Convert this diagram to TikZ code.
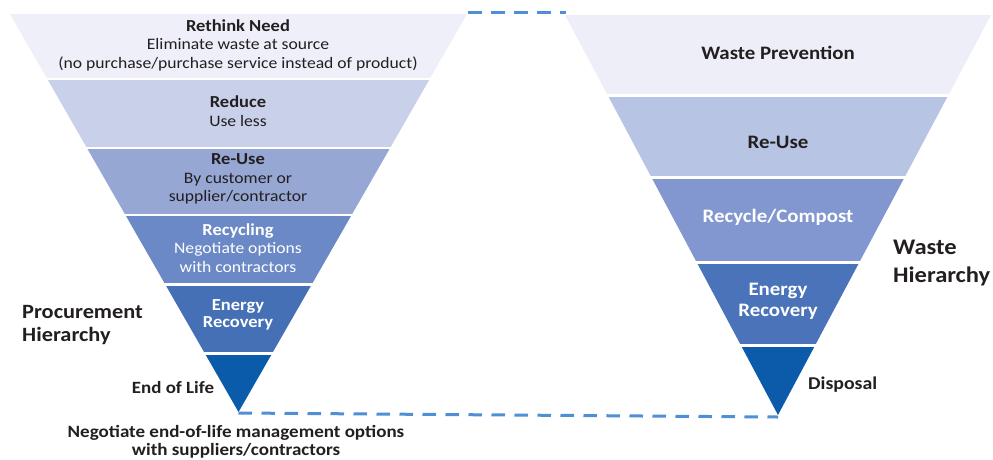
\documentclass[tikz,border=0pt]{standalone}
\usepackage{fontspec}
\setmainfont{Carlito}[FakeStretch=1.1]
\definecolor{txtdark}{RGB}{35,31,32}
\definecolor{dashblue}{RGB}{79,143,214}
\definecolor{lA}{RGB}{238,239,248}
\definecolor{lB}{RGB}{201,208,233}
\definecolor{lC}{RGB}{150,167,212}
\definecolor{lD}{RGB}{107,137,198}
\definecolor{lE}{RGB}{69,112,182}
\definecolor{lF}{RGB}{10,91,170}
\definecolor{rA}{RGB}{238,238,248}
\definecolor{rB}{RGB}{184,196,228}
\definecolor{rC}{RGB}{130,151,207}
\definecolor{rD}{RGB}{74,115,185}
\definecolor{rE}{RGB}{11,91,170}
\newcommand{\headb}[1]{{\fontsize{16.8}{18.5}\selectfont\bfseries #1}}
\tikzset{
  lbl/.style={inner sep=0pt, align=center, text=txtdark},
  wlbl/.style={inner sep=0pt, align=center, text=white},
  lefttxt/.style={font=\fontsize{16}{18.5}\selectfont},
  righttxt/.style={font=\bfseries\fontsize{19}{21}\selectfont},
  sidetxt/.style={align=left, anchor=west, inner sep=0pt, text=txtdark},
  dashline/.style={draw=dashblue, line width=3pt, dash pattern=on 13.5pt off 9.5pt}
}
\begin{document}
\begin{tikzpicture}[x=1pt,y=-1pt]
\useasboundingbox (0,0) rectangle (993,459);
\fill[white] (0,0) rectangle (993,459);

% left triangle (procurement hierarchy)
\begin{scope}
  \clip (10,14) -- (467,14) -- (238.5,412) -- cycle;
  \fill[lA] (0,10) rectangle (500,77.5);
  \fill[lB] (0,80) rectangle (500,146.5);
  \fill[lC] (0,149) rectangle (500,213.5);
  \fill[lD] (0,216) rectangle (500,283);
  \fill[lE] (0,285.5) rectangle (500,352);
  \fill[lF] (0,354.5) rectangle (500,420);
\end{scope}

% right triangle (waste hierarchy)
\begin{scope}
  \clip (565,15) -- (991,15) -- (778,415) -- cycle;
  \fill[rA] (540,10) rectangle (993,93.5);
  \fill[rB] (540,96.5) rectangle (993,176);
  \fill[rC] (540,179) rectangle (993,261);
  \fill[rD] (540,264) rectangle (993,344);
  \fill[rE] (540,347) rectangle (993,420);
\end{scope}

% connecting dashed lines
\coordinate (LTop) at (468,12);
\coordinate (RTop) at (566,12);
\coordinate (LApex) at (238.5,413);
\coordinate (RApex) at (778,417);
\draw[dashline] (LTop) -- (RTop);
\draw[dashline] (LApex) -- (RApex);

% left texts
\node[lbl, lefttxt] (rethink) at (238,45) {\headb{Rethink Need}\\Eliminate waste at source\\(no purchase/purchase service instead of product)};
\node[lbl, lefttxt] (reduce) at (238,111) {\headb{Reduce}\\Use less};
\node[lbl, lefttxt] (reuseL) at (238,179) {\headb{Re-Use}\\By customer or\\supplier/contractor};
\node[wlbl, lefttxt] (recycling) at (238,248) {\headb{Recycling}\\Negotiate options\\with contractors};
\node[wlbl, font=\bfseries\fontsize{16.8}{17.5}\selectfont] (energyL) at (238,315) {Energy\\Recovery};
\node[lbl, font=\bfseries\fontsize{17.2}{18}\selectfont] (eol) at (173,388) {End of Life};
\node[sidetxt, font=\bfseries\fontsize{20.3}{23.5}\selectfont] (proc) at (22,325) {Procurement\\Hierarchy};
\node[lbl, font=\bfseries\fontsize{17.3}{17.5}\selectfont] (negot) at (236,442) {Negotiate end-of-life management options\\with suppliers/contractors};

% right texts
\node[lbl, righttxt] (wprev) at (778,53) {Waste Prevention};
\node[lbl, righttxt] (reuseR) at (778,142) {Re-Use};
\node[wlbl, righttxt] (recomp) at (778,217) {Recycle/Compost};
\node[wlbl, righttxt] (energyR) at (778,301) {Energy\\Recovery};
\node[lbl, righttxt, anchor=west, font=\bfseries\fontsize{18}{21}\selectfont] (disp) at (808,385) {Disposal};
\node[sidetxt, font=\bfseries\fontsize{22.3}{28}\selectfont] (whier) at (893,263) {Waste\\Hierarchy};
\end{tikzpicture}
\end{document}
